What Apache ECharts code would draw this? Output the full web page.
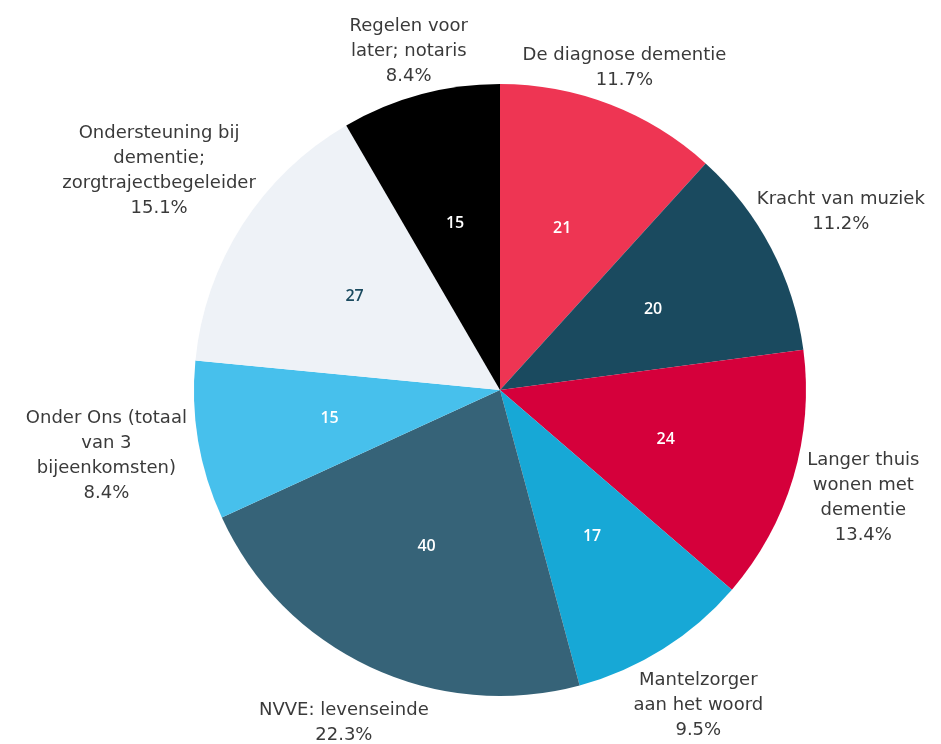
<!DOCTYPE html>
<html>
<head>
<meta charset="utf-8">
<script src="https://cdn.jsdelivr.net/npm/echarts@6/dist/echarts.min.js"></script>
<style>
  html, body { margin: 0; padding: 0; background: #fff; }
  #chart { width: 941px; height: 744px; }
</style>
</head>
<body>
<div id="chart"></div>
<script>
// categorieen (met regelafbreking zoals in het origineel)
const categories = [
  'De diagnose dementie',
  'Kracht van muziek',
  'Langer thuis\nwonen met\ndementie',
  'Mantelzorger\naan het woord',
  'NVVE: levenseinde',
  'Onder Ons (totaal\nvan 3\nbijeenkomsten)',
  'Ondersteuning bij\ndementie;\nzorgtrajectbegeleider',
  'Regelen voor\nlater; notaris'
]
const values = [21, 20, 24, 17, 40, 15, 27, 15]

const colors = ['#ee3553', '#1a4a5f', '#d5003b', '#17a8d6', '#366378', '#47c0ec', '#eef2f7', '#000000']
const innerLabelColors = ['#fff', '#fff', '#fff', '#fff', '#fff', '#fff', '#1a4a5f', '#fff']

const CX = 500
const CY = 390
const RADIUS = 306
const GAP = 6
const FONT_SIZE = 18
const LINE_HEIGHT = 25
const FONT = 'DejaVu Sans'

// middenhoek van elke sector, met de klok mee vanaf boven
const total = values.reduce((a, b) => a + b, 0)
let acc = 0
const midAngles = values.map(v => {
  const mid = (acc + v / 2) / total * 360
  acc += v
  return mid
})

// breedte per regel meten, zodat het label zo dicht mogelijk tegen de cirkel komt
const measureCtx = document.createElement('canvas').getContext('2d')
measureCtx.font = FONT_SIZE + 'px "' + FONT + '"'

function labelDistance (text, ux, uy) {
  const lines = text.split('\n')
  const n = lines.length
  const hh = FONT_SIZE / 2
  let best = -Infinity
  lines.forEach((line, k) => {
    const hw = measureCtx.measureText(line).width / 2
    const oy = (k - (n - 1) / 2) * LINE_HEIGHT
    best = Math.max(best, hw * Math.abs(ux) + hh * Math.abs(uy) - uy * oy)
  })
  return RADIUS + GAP + best
}

const chart = echarts.init(document.getElementById('chart'))

chart.setOption({
  backgroundColor: '#ffffff',
  animation: false,
  series: [
    {
      name: 'buiten',
      type: 'pie',
      center: [CX, CY],
      radius: RADIUS,
      startAngle: 90,
      percentPrecision: 1,
      avoidLabelOverlap: false,
      itemStyle: { borderWidth: 0 },
      label: {
        show: true,
        // 'inside' houdt de tekst gecentreerd, labelLayout zet hem buiten de cirkel
        position: 'inside',
        formatter: '{b}\n{d}%',
        color: '#3a3a3a',
        fontFamily: FONT,
        fontSize: FONT_SIZE,
        lineHeight: LINE_HEIGHT
      },
      labelLine: { show: false },
      labelLayout: function (params) {
        const i = params.dataIndex
        const ang = midAngles[i] * Math.PI / 180
        const ux = Math.sin(ang)
        const uy = -Math.cos(ang)
        const d = labelDistance(params.text, ux, uy)
        return { x: CX + d * ux, y: CY + d * uy, align: 'center', verticalAlign: 'middle' }
      },
      data: categories.map((name, i) => ({
        name: name,
        value: values[i],
        itemStyle: { color: colors[i] }
      }))
    },
    {
      // alleen voor de waarden binnen de sectoren
      name: 'binnen',
      type: 'pie',
      center: [CX, CY],
      radius: [0, RADIUS * 1.11],
      startAngle: 90,
      silent: true,
      avoidLabelOverlap: false,
      itemStyle: { color: 'rgba(0,0,0,0)' },
      label: {
        show: true,
        position: 'inside',
        formatter: '{c}',
        fontFamily: 'Open Sans',
        fontSize: 16,
        fontWeight: 600
      },
      labelLine: { show: false },
      data: categories.map((name, i) => ({
        name: name,
        value: values[i],
        label: { color: innerLabelColors[i] }
      }))
    }
  ]
})
</script>
</body>
</html>
